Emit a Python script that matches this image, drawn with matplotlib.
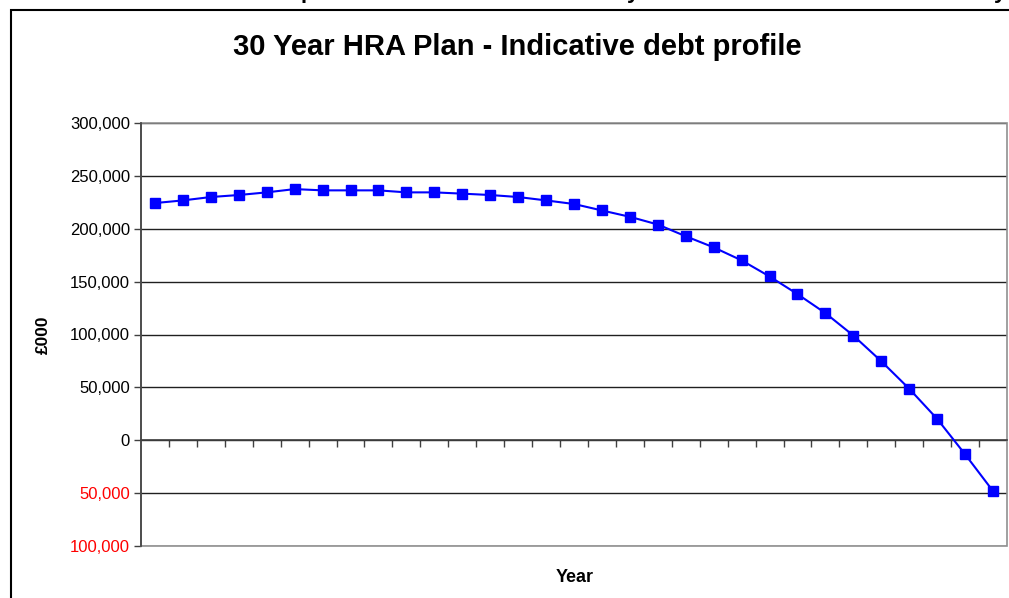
import matplotlib
matplotlib.use("Agg")
import matplotlib.pyplot as plt
from matplotlib.patches import Rectangle
from matplotlib.ticker import FuncFormatter, FixedLocator

plt.rcParams['font.family'] = ['Liberation Sans', 'DejaVu Sans']

# Data (£000), years 1..31
years = list(range(1, 32))
debt = [224300, 226800, 230000, 231900, 234400, 237500, 236300, 236300, 236300,
        234400, 234400, 233200, 231900, 230000, 226800, 223400, 217300, 211300,
        204000, 192900, 182400, 170100, 154900, 138200, 120200, 99000, 74700,
        48700, 20200, -13300, -48100]
y_ticks = [-100000, -50000, 0, 50000, 100000, 150000, 200000, 250000, 300000]

title = "30 Year HRA Plan - Indicative debt profile"
ylabel = "£000"
xlabel = "Year"

W, H = 1009, 598
fig = plt.figure(figsize=(W / 100, H / 100), dpi=100)

# outer chart frame (partially visible)
fig.patches.append(Rectangle((11 / W, -0.2), 2.0, 1.2 - 10 / H, transform=fig.transFigure,
                             fill=False, edgecolor='black', linewidth=1.5, clip_on=False))

# cropped text line above the chart (only descenders visible)
for ch, xp in [("p", 307), ("y", 633), ("y", 1000)]:
    fig.text(xp / W, 1 + 2 / H, ch, ha='center', va='baseline', fontsize=16,
             fontweight='bold', color='black')

left, right, top, bottom = 141, 1007, 123, 546
ax = fig.add_axes([left / W, 1 - bottom / H, (right - left) / W, (bottom - top) / H])

ax.plot(years, debt, color='#0000FF', linewidth=1.5, marker='s', markersize=7,
        markerfacecolor='#0000FF', markeredgecolor='#0000FF', zorder=5, clip_on=False)

ax.set_xlim(0.5, len(years) + 0.5)
ax.set_ylim(y_ticks[0], y_ticks[-1])
ax.yaxis.set_major_locator(FixedLocator(y_ticks))
ax.yaxis.set_major_formatter(FuncFormatter(lambda v, p: f"{abs(int(v)):,}"))
ax.grid(axis='y', color='#202020', linewidth=1)
ax.set_axisbelow(True)

for s in ['top', 'right']:
    ax.spines[s].set_visible(False)
ax.spines['left'].set_color('#404040')
ax.spines['left'].set_linewidth(1.2)
ax.spines['bottom'].set_position(('data', 0))
ax.spines['bottom'].set_color('#404040')
ax.spines['bottom'].set_linewidth(1.2)

# plot area frame
ax.add_patch(Rectangle((0, 0), 1, 1, transform=ax.transAxes, fill=False,
                       edgecolor='#909090', linewidth=1.2, zorder=1, clip_on=False))

ax.xaxis.set_major_locator(FixedLocator([y + 0.5 for y in years[:-1]]))
ax.tick_params(axis='x', direction='out', length=5, width=1, color='#404040', labelbottom=False)
ax.tick_params(axis='y', direction='out', length=5, width=1, color='#404040',
               labelsize=12, pad=3)
for lab, v in zip(ax.get_yticklabels(), y_ticks):
    lab.set_color('#FF0000' if v < 0 else 'black')

fig.text(517 / W, 1 - 47 / H, title, ha='center', va='center', fontsize=21, fontweight='bold')
fig.text(43 / W, 1 - 335 / H, ylabel, ha='center', va='center', rotation=90,
         fontsize=12.5, fontweight='bold')
fig.text(575 / W, 1 - 578 / H, xlabel, ha='center', va='center', fontsize=13,
         fontweight='bold')

fig.savefig("out.png", dpi=100)
